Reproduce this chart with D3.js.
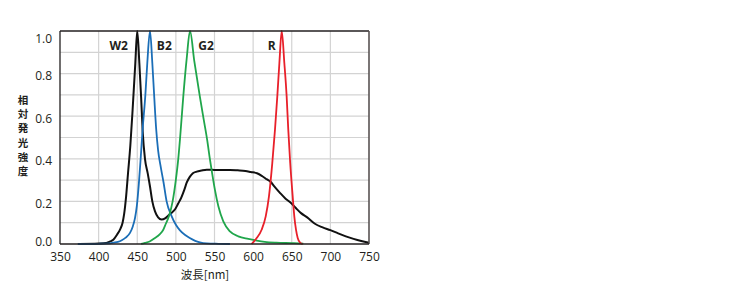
<!DOCTYPE html>
<html>
<head>
<meta charset="utf-8">
<script src="https://cdn.jsdelivr.net/npm/d3@7"></script>
<style>
  body { margin: 0; background: #fff; }
  svg text { font-family: "Open Sans", "Noto Sans", sans-serif; fill: #231f20; }
</style>
</head>
<body>
<div id="chart"></div>
<script>
// spectra: [wavelength nm, relative intensity]
const w2 = [[375,0],[400,0.002],[410,0.005],[415,0.012],[419,0.02],[424,0.045],[428,0.07],[431,0.1],
  [433,0.14],[435.5,0.22],[438,0.33],[441,0.46],[444,0.63],[447.5,0.85],[450,1.0],[452.7,0.85],
  [455,0.69],[457,0.53],[460,0.4],[463.5,0.333],[466.5,0.27],[469.5,0.2],[473,0.153],[477,0.125],
  [481.5,0.115],[486,0.12],[490,0.133],[495,0.148],[499,0.163],[503,0.19],[507,0.218],[511,0.255],
  [514,0.288],[518,0.315],[522,0.332],[527,0.34],[533,0.345],[540,0.349],[550,0.348],[560,0.347],
  [570,0.348],[580,0.346],[590,0.343],[597,0.338],[605,0.332],[612,0.318],[618,0.303],[622,0.294],
  [628,0.268],[635,0.239],[642,0.213],[648,0.196],[655,0.17],[662,0.145],[670,0.125],[680,0.095],
  [690,0.078],[700,0.065],[710,0.05],[720,0.036],[730,0.024],[740,0.014],[750,0.006]];
const b2 = [[373,0],[400,0.001],[415,0.003],[419,0.006],[425,0.01],[430,0.018],[435,0.03],[440.6,0.052],
  [444,0.08],[447,0.12],[449.5,0.18],[452,0.28],[454.4,0.4],[457,0.54],[460.5,0.7],[463,0.85],
  [466.5,1.0],[469.5,0.85],[472,0.69],[474.5,0.54],[477,0.44],[480,0.37],[484,0.29],[488,0.2],[494.6,0.13],
  [500,0.09],[505.3,0.064],[512,0.042],[518,0.028],[525,0.015],[531,0.008],[540,0.003],[555,0.001],[570,0]];
const g2 = [[455,0],[460,0.005],[466,0.012],[473,0.028],[479,0.045],[483.7,0.067],[487,0.095],[491,0.13],
  [495.8,0.2],[500,0.302],[503,0.396],[505.5,0.5],[509.6,0.693],[514,0.87],[518.3,1.0],[523.8,0.86],
  [531,0.693],[536,0.585],[540.5,0.489],[544,0.4],[547,0.33],[550.5,0.255],[555,0.177],[561.4,0.106],
  [570,0.059],[580.8,0.036],[593.8,0.024],[604.6,0.016],[615,0.01],[630,0.006],[650,0.004],[665,0.002]];
const r = [[598,0],[604.6,0.028],[611,0.067],[616.3,0.13],[620.5,0.224],[624.8,0.38],[628.3,0.537],
  [631.3,0.693],[634,0.85],[637,1.0],[640.4,0.85],[643.4,0.693],[645.5,0.537],[648,0.38],[651.2,0.224],
  [653.3,0.13],[655.5,0.067],[657.7,0.028],[661,0.005],[664,0]];

const seriesNames = ["W2", "B2", "G2", "R"];
const seriesColors = ["#111111", "#1b6eb7", "#20a64b", "#e8202a"];
const labelWavelengths = [426, 485, 539, 624];   // label centres, beside the peaks
const xTicks = [350, 400, 450, 500, 550, 600, 650, 700, 750];
const yTicks = [0, 0.2, 0.4, 0.6, 0.8, 1.0];
const yTitle = ["相", "対", "発", "光", "強", "度"];
const xTitle = "波長[nm]";

const width = 730, height = 282;
const svg = d3.select("#chart").append("svg")
    .attr("width", width)
    .attr("height", height);

let x = d3.scaleLinear().domain([350, 750]).range([60, 369]);
let y = d3.scaleLinear().domain([0, 1]).range([244, 31]);

// grid
svg.append("g").selectAll("line").data(d3.range(400, 750, 50)).enter()
    .append("line")
    .attr("x1", d => x(d)).attr("x2", d => x(d))
    .attr("y1", y(0)).attr("y2", y(1))
    .attr("stroke", "#d3d3d3").attr("stroke-width", 1.2);
svg.append("g").selectAll("line").data(d3.range(1, 10).map(i => i / 10)).enter()
    .append("line")
    .attr("x1", x(350)).attr("x2", x(750))
    .attr("y1", d => y(d)).attr("y2", d => y(d))
    .attr("stroke", "#d3d3d3").attr("stroke-width", 1.2);

// axes (labels only, frame drawn below)
let xAxis = svg.append("g")
    .attr("transform", `translate(0, ${y(0)})`)
    .call(d3.axisBottom(x).tickValues(xTicks).tickSize(0).tickPadding(8.5));
let yAxis = svg.append("g")
    .attr("transform", `translate(${x(350)}, 0)`)
    .call(d3.axisLeft(y).tickValues(yTicks).tickFormat(d3.format(".1f")).tickSize(0).tickPadding(8));
[xAxis, yAxis].forEach(a => {
    a.select(".domain").remove();
    a.selectAll("text").attr("font-family", null).attr("font-size", 12).attr("fill", "#231f20");
});
yAxis.selectAll("text").attr("dy", d => d == 1 ? "0.95em" : d == 0 ? "0.12em" : "0.5em");

// curves
let line = d3.line()
    .x(d => x(d[0]))
    .y(d => y(d[1]))
    .curve(d3.curveMonotoneX);
[w2, b2, g2, r].forEach((s, i) => {
    svg.append("path")
        .datum(s)
        .attr("fill", "none")
        .attr("stroke", seriesColors[i])
        .attr("stroke-width", i == 0 ? 2 : 1.8)
        .attr("stroke-linejoin", "round")
        .attr("d", line);
});

// frame
svg.append("line").attr("x1", x(350)).attr("x2", x(750)).attr("y1", y(1)).attr("y2", y(1))
    .attr("stroke", "#231f20").attr("stroke-width", 1.3);
svg.append("line").attr("x1", x(750)).attr("x2", x(750)).attr("y1", y(1)).attr("y2", y(0))
    .attr("stroke", "#595353").attr("stroke-width", 1.6);
svg.append("line").attr("x1", x(350)).attr("x2", x(350)).attr("y1", y(1)).attr("y2", y(0))
    .attr("stroke", "#231f20").attr("stroke-width", 1.3);
svg.append("line").attr("x1", x(350)).attr("x2", x(750)).attr("y1", y(0)).attr("y2", y(0))
    .attr("stroke", "#231f20").attr("stroke-width", 1.6);

// series labels
svg.append("g").selectAll("text").data(seriesNames).enter()
    .append("text")
    .attr("x", (d, i) => x(labelWavelengths[i]))
    .attr("y", 50)
    .attr("text-anchor", "middle")
    .attr("font-size", 12)
    .attr("font-weight", "bold")
    .text(d => d);

// axis titles
svg.append("text")
    .attr("x", 205).attr("y", 279)
    .attr("text-anchor", "middle")
    .attr("font-size", 11.5)
    .style("font-family", "'Noto Sans CJK JP', sans-serif")
    .text(xTitle);
svg.append("g").selectAll("text").data(yTitle).enter()
    .append("text")
    .attr("x", 23)
    .attr("y", (d, i) => 104 + i * 14.2)
    .attr("text-anchor", "middle")
    .attr("font-size", 10.5)
    .attr("font-weight", "bold")
    .style("font-family", "'Noto Sans CJK JP', sans-serif")
    .text(d => d);
</script>
</body>
</html>
